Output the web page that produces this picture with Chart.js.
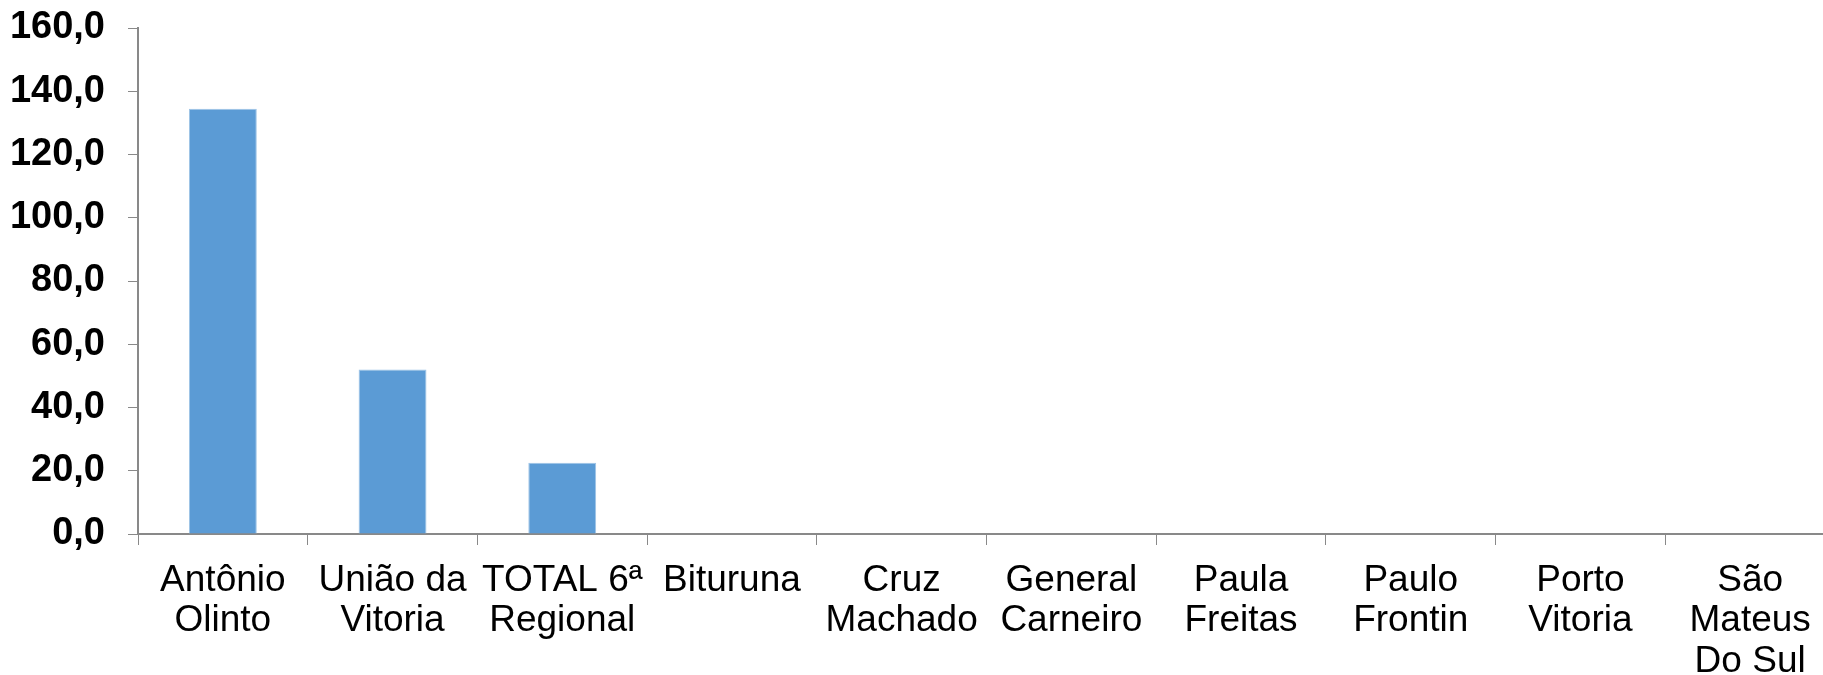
<!DOCTYPE html>
<html>
<head>
<meta charset="utf-8">
<script src="https://cdn.jsdelivr.net/npm/chart.js@4/dist/chart.umd.min.js"></script>
<style>
  html, body { margin: 0; padding: 0; background: #fff; overflow: hidden; }
  #wrap { position: relative; width: 1850px; height: 675px; }
</style>
</head>
<body>
<div id="wrap"><canvas id="chart"></canvas></div>
<script>
// categories (line breaks as in the picture)
const categories = [
  ['Antônio', 'Olinto'],
  ['União da', 'Vitoria'],
  ['TOTAL 6ª', 'Regional'],
  ['Bituruna'],
  ['Cruz', 'Machado'],
  ['General', 'Carneiro'],
  ['Paula', 'Freitas'],
  ['Paulo', 'Frontin'],
  ['Porto', 'Vitoria'],
  ['São', 'Mateus', 'Do Sul']
];
const values = [134.5, 52.0, 22.5, 0, 0, 0, 0, 0, 0, 0];

const yMin = 0;
const yMax = 160;
const yStep = 20;

const axisColor = '#898989';

new Chart(document.getElementById('chart'), {
  type: 'bar',
  data: {
    labels: categories,
    datasets: [{
      data: values,
      backgroundColor: '#5B9BD5',
      borderColor: '#9DC3E6',
      borderWidth: 1,
      barPercentage: 0.4,
      categoryPercentage: 1
    }]
  },
  options: {
    responsive: true,
    maintainAspectRatio: false,
    animation: false,
    layout: { padding: { top: 28, right: 15, left: 0, bottom: 0 } },
    plugins: {
      legend: { display: false },
      tooltip: { enabled: false }
    },
    scales: {
      x: {
        grid: { display: true, drawOnChartArea: false, drawTicks: true, tickLength: 11, color: axisColor, offset: true },
        border: { display: true, color: axisColor, width: 2 },
        afterFit: scale => { scale.height = 141; scale.paddingLeft = 0; scale.paddingRight = 0; },
        ticks: {
          color: '#000',
          maxRotation: 0,
          autoSkip: false,
          padding: 15,
          font: { family: 'Liberation Sans, Arial, sans-serif', size: 37, lineHeight: 1.1 }
        }
      },
      y: {
        min: yMin,
        max: yMax,
        grid: { display: true, drawOnChartArea: false, drawTicks: true, tickLength: 10, color: axisColor },
        border: { display: true, color: axisColor, width: 2 },
        afterFit: scale => { scale.width = 138; scale.paddingTop = 0; scale.paddingBottom = 0; },
        ticks: {
          stepSize: yStep,
          color: '#000',
          padding: 23,
          font: { family: 'Liberation Sans, Arial, sans-serif', size: 38, weight: 'bold' },
          callback: v => v.toFixed(1).replace('.', ',')
        }
      }
    }
  }
});
</script>
</body>
</html>
